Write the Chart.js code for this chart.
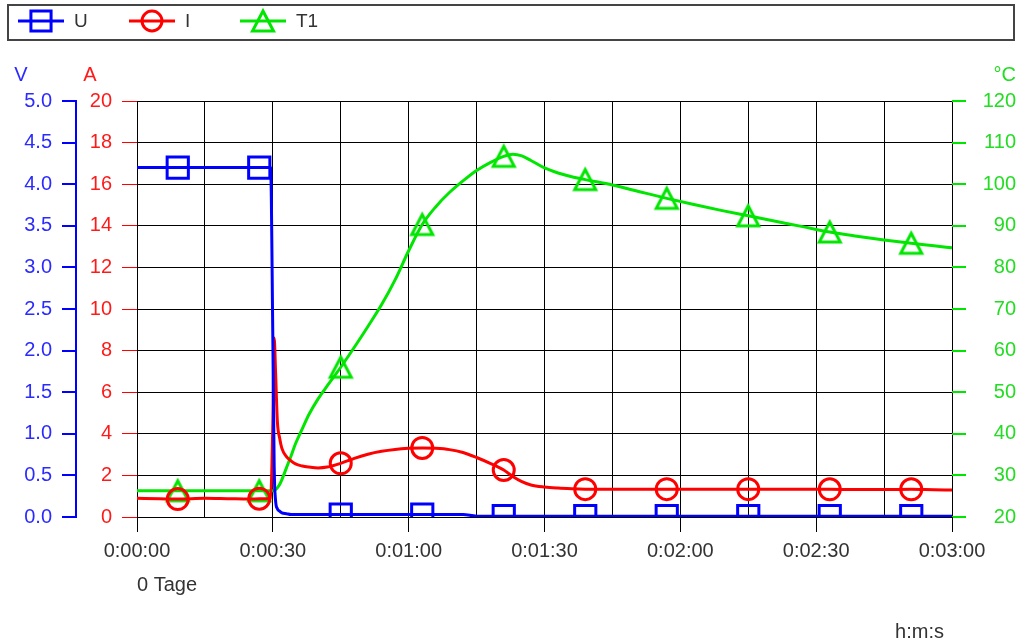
<!DOCTYPE html>
<html>
<head>
<meta charset="utf-8">
<script src="https://cdn.jsdelivr.net/npm/chart.js"></script>
<style>
  html, body { margin: 0; padding: 0; background: #fff; }
  canvas { display: block; }
</style>
</head>
<body>
<canvas id="chart" width="1019" height="643"></canvas>
<script>
// Sample times in seconds
const timeSec = [
  0, 5, 9, 15, 20, 25, 27, 29,
  29.5, 30, 30.3, 30.6, 31, 31.5, 32, 33, 34, 35,
  36.5, 38, 40, 42, 45, 48, 51, 54, 57, 60,
  63, 66, 69, 72, 75, 78, 81, 83, 85, 87,
  90, 93, 96, 99, 105, 111, 117, 123, 129, 135,
  141, 147, 153, 159, 165, 171, 176, 180
];

// U in volts
const voltage = [
  4.2, 4.2, 4.2, 4.2, 4.2, 4.2, 4.2, 4.2,
  4.2, 2.15, 0.6, 0.2, 0.1, 0.07, 0.05, 0.04, 0.03, 0.03,
  0.03, 0.03, 0.03, 0.03, 0.03, 0.03, 0.03, 0.03, 0.03, 0.03,
  0.03, 0.03, 0.03, 0.03, 0.01, 0.01, 0.01, 0.01, 0.01, 0.01,
  0.01, 0.01, 0.01, 0.01, 0.01, 0.01, 0.01, 0.01, 0.01, 0.01,
  0.01, 0.01, 0.01, 0.01, 0.01, 0.01, 0.01, 0.01
];

// I in amperes
const current = [
  0.9, 0.88, 0.86, 0.9, 0.88, 0.86, 0.88, 0.88,
  0.9, 4.5, 8.6, 7.0, 4.6, 3.8, 3.3, 2.9, 2.7, 2.55,
  2.45, 2.4, 2.36, 2.4, 2.58, 2.82, 3.02, 3.16, 3.25, 3.3,
  3.32, 3.3, 3.24, 3.1, 2.86, 2.58, 2.26, 1.95, 1.7, 1.54,
  1.44, 1.39, 1.36, 1.34, 1.33, 1.33, 1.34, 1.33, 1.33, 1.34,
  1.33, 1.33, 1.33, 1.32, 1.32, 1.33, 1.31, 1.3
];

// T1 in degrees Celsius
const temperature = [
  26.3, 26.3, 26.3, 26.3, 26.3, 26.3, 26.3, 26.3,
  26.3, 26.3, 26.4, 26.6, 27, 27.8, 29, 31.8, 34.6, 37.6,
  41.2, 44.7, 48.4, 51.5, 56, 60.8, 65.8, 71, 77, 84,
  90.3, 94.6, 98, 100.8, 103.3, 105.2, 106.7, 107.2, 106.8, 105.7,
  103.9, 102.7, 101.8, 101.1, 99.8, 98.2, 96.6, 95.1, 93.7, 92.4,
  91.1, 89.8, 88.5, 87.5, 86.6, 85.8, 85.2, 84.7
];

// Times at which the series symbols are drawn
const markerTimes = [9, 27, 45, 63, 81, 99, 117, 135, 153, 171];

const seriesLabels = ['U', 'I', 'T1'];
const seriesColors = ['#0000ff', '#ff0000', '#00e600'];
const labelColors = ['#2b2bff', '#ff1a1a', '#22dd22'];
const unitLabels = ['V', 'A', '°C'];
const timeUnitLabel = 'h:m:s';
const dayLabel = '0 Tage';

const FONT = "'Liberation Sans', Arial, sans-serif";
Chart.defaults.font.family = FONT;
Chart.defaults.font.size = 20;

function fmtTime(v) {
  const s = Math.round(v);
  const h = Math.floor(s / 3600);
  const m = Math.floor((s % 3600) / 60);
  const ss = s % 60;
  return h + ':' + String(m).padStart(2, '0') + ':' + String(ss).padStart(2, '0');
}

function points(values) {
  return timeSec.map((t, i) => ({ x: t, y: values[i] }));
}

// Hollow triangle symbol, as tall as it is wide, centred on its mid-height
function triangleSymbol(color) {
  const c = document.createElement('canvas');
  c.width = 28;
  c.height = 28;
  const g = c.getContext('2d');
  g.strokeStyle = color;
  g.lineWidth = 3;
  g.lineJoin = 'miter';
  g.beginPath();
  g.moveTo(14, 4);
  g.lineTo(24.5, 24);
  g.lineTo(3.5, 24);
  g.closePath();
  g.stroke();
  return c;
}

const markerStyles = [
  { style: 'rect', radius: 15 },
  { style: 'circle', radius: 10.5 },
  { style: triangleSymbol(seriesColors[2]), radius: 12 }
];

function makeDataset(idx, values, axis) {
  return {
    label: seriesLabels[idx],
    data: points(values),
    yAxisID: axis,
    borderColor: seriesColors[idx],
    borderWidth: 3,
    pointStyle: markerStyles[idx].style,
    pointBorderColor: seriesColors[idx],
    pointBackgroundColor: 'rgba(0,0,0,0)',
    pointBorderWidth: 3,
    pointRadius: ctx => markerTimes.includes(timeSec[ctx.dataIndex]) ? markerStyles[idx].radius : 0,
    cubicInterpolationMode: 'monotone',
    fill: false
  };
}

// Legend strip, unit captions and the time captions under the x axis
const decorations = {
  id: 'decorations',
  afterDraw(chart) {
    const ctx = chart.ctx;
    ctx.save();
    // legend frame
    ctx.strokeStyle = '#444';
    ctx.lineWidth = 2;
    ctx.strokeRect(8, 5, 1006, 35);
    ctx.font = '19px ' + FONT;
    ctx.textBaseline = 'middle';
    chart.data.datasets.forEach((ds, i) => {
      const x0 = 18 + i * 111;
      const y = 21;
      ctx.strokeStyle = ds.borderColor;
      ctx.lineWidth = 3;
      ctx.beginPath();
      ctx.moveTo(x0, y);
      ctx.lineTo(x0 + 46, y);
      ctx.stroke();
      ctx.fillStyle = 'rgba(0,0,0,0)';
      Chart.helpers.drawPoint(ctx, {
        pointStyle: markerStyles[i].style,
        radius: markerStyles[i].radius * 0.95,
        borderWidth: 3,
        rotation: 0
      }, x0 + 23, y);
      ctx.fillStyle = '#333';
      ctx.textAlign = 'left';
      ctx.fillText(ds.label, x0 + 56, y + 1);
    });

    // unit captions above the value axes
    const sV = chart.scales.yV, sA = chart.scales.yA, sT = chart.scales.yT;
    ctx.font = '20px ' + FONT;
    ctx.textAlign = 'center';
    ctx.fillStyle = labelColors[0];
    ctx.fillText(unitLabels[0], sV.left + 21, 75);
    ctx.fillStyle = labelColors[1];
    ctx.fillText(unitLabels[1], sA.left + 14, 75);
    ctx.fillStyle = labelColors[2];
    ctx.textAlign = 'right';
    ctx.fillText(unitLabels[2], sT.right, 75);

    // captions under the time axis
    const sx = chart.scales.x;
    ctx.fillStyle = '#333';
    ctx.textAlign = 'left';
    ctx.fillText(dayLabel, sx.left, 585);
    ctx.textAlign = 'right';
    ctx.fillText(timeUnitLabel, 944, 632);
    ctx.restore();
  }
};

new Chart(document.getElementById('chart'), {
  type: 'line',
  data: {
    datasets: [
      makeDataset(0, voltage, 'yV'),
      makeDataset(1, current, 'yA'),
      makeDataset(2, temperature, 'yT')
    ]
  },
  options: {
    responsive: false,
    animation: false,
    events: [],
    layout: { padding: { top: 101, left: 0, right: 3, bottom: 0 } },
    plugins: {
      legend: { display: false },
      tooltip: { enabled: false }
    },
    scales: {
      x: {
        type: 'linear',
        min: 0,
        max: 180,
        afterFit: s => { s.height = 126; },
        ticks: {
          stepSize: 15,
          autoSkip: false,
          maxRotation: 0,
          padding: 7,
          color: '#333',
          callback: v => (v % 30 === 0 ? fmtTime(v) : '')
        },
        grid: {
          color: '#000',
          lineWidth: 1,
          tickLength: 15,
          tickColor: c => (c.tick && c.tick.value % 30 === 0 ? '#000' : 'rgba(0,0,0,0)')
        },
        border: { display: true, color: '#000', width: 1 }
      },
      yV: {
        position: 'left',
        weight: 2,
        min: 0,
        max: 5,
        afterFit: s => { s.width = 76; },
        ticks: {
          stepSize: 0.5,
          padding: 10,
          color: labelColors[0],
          callback: v => v.toFixed(1)
        },
        grid: {
          drawOnChartArea: false,
          color: seriesColors[0],
          tickColor: seriesColors[0],
          tickLength: 14,
          lineWidth: 2
        },
        border: { display: true, color: seriesColors[0], width: 2 }
      },
      yA: {
        position: 'left',
        weight: 1,
        min: 0,
        max: 20,
        afterFit: s => { s.width = 61; },
        ticks: {
          stepSize: 2,
          padding: 10,
          color: labelColors[1]
        },
        grid: {
          drawOnChartArea: true,
          color: '#000',
          lineWidth: 1,
          tickColor: seriesColors[1],
          tickLength: 15
        },
        border: { display: false }
      },
      yT: {
        position: 'right',
        min: 20,
        max: 120,
        afterFit: s => { s.width = 64; },
        ticks: {
          stepSize: 10,
          padding: 10,
          crossAlign: 'far',
          color: labelColors[2]
        },
        grid: {
          drawOnChartArea: false,
          color: seriesColors[2],
          tickColor: seriesColors[2],
          tickLength: 14,
          lineWidth: 2
        },
        border: { display: false }
      }
    }
  },
  plugins: [decorations]
});
</script>
</body>
</html>
